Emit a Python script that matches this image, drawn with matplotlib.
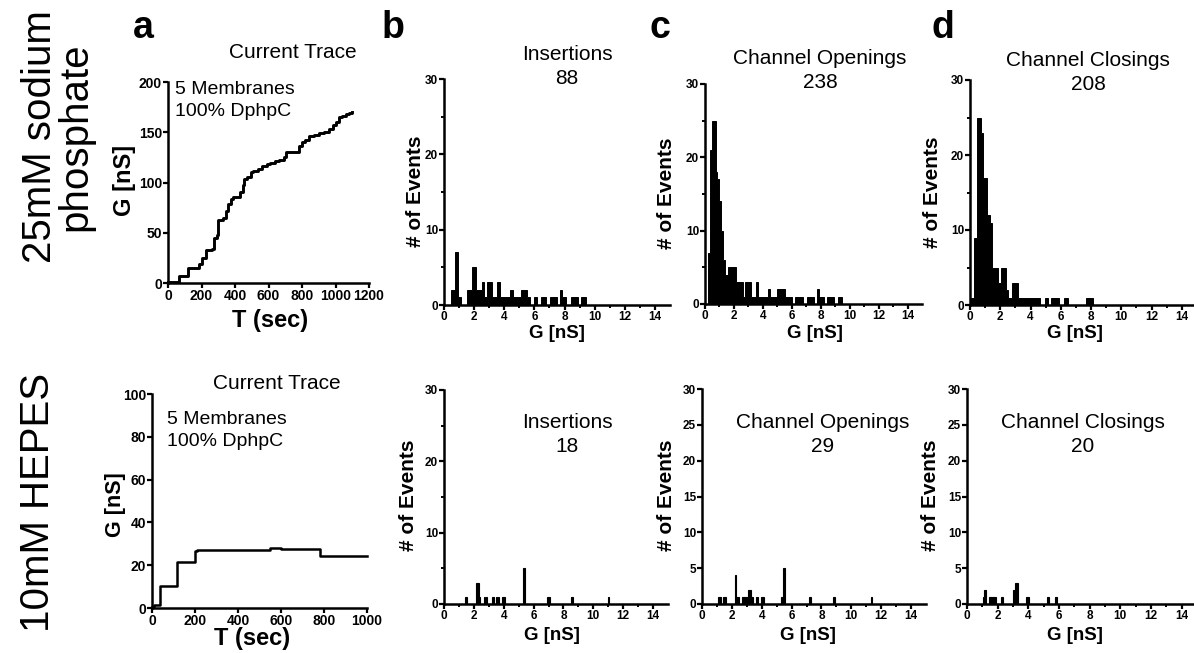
import matplotlib
matplotlib.use("Agg")
import matplotlib.pyplot as plt

plt.rcParams['font.family'] = ['Liberation Sans', 'DejaVu Sans']

# ---- data ----
# 25 mM sodium phosphate current trace (time s, conductance nS, step levels)
trace1_t = [0, 65, 120, 185, 205, 225, 260, 275, 290, 300, 330, 345, 360, 375, 390,
            430, 445, 455, 470, 495, 510, 540, 560, 590, 610, 640, 665, 690, 705,
            780, 800, 820, 840, 870, 900, 930, 960, 985, 1005, 1020, 1040, 1060,
            1080, 1100]
trace1_g = [1, 7, 15, 19, 25, 33, 34, 45, 48, 63, 65, 72, 79, 84, 86,
            91, 98, 103, 105, 110, 111, 113, 116, 118, 119, 121, 122, 125, 130,
            136, 140, 142, 146, 147, 149, 150, 153, 157, 160, 165, 166, 168,
            169, 170]

# 10 mM HEPES current trace
trace2_t = [0, 10, 36, 116, 200, 210, 550, 600, 783, 1000]
trace2_g = [0.5, 1.5, 10.5, 21.3, 26.5, 27.0, 28.0, 27.8, 24.5, 24.5]

# histograms: bin edges (nS) and counts
ins1_edges = [0.45, 0.70, 0.95, 1.15, 1.50, 1.85, 2.10, 2.50, 2.65, 2.85, 3.20, 3.55,
              3.70, 4.40, 4.60, 5.10, 5.50, 5.70, 5.95, 6.15, 6.45, 6.75, 7.05, 7.50,
              7.70, 7.85, 8.10, 8.45, 8.90, 9.10, 9.40]
ins1_counts = [2, 7, 1, 0, 2, 5, 2, 3, 1, 3, 1, 3, 1, 2, 1, 2, 1, 0, 1, 0, 1, 0, 1, 0,
               2, 1, 0, 1, 0, 1]

open1_edges = [0.20, 0.34, 0.46, 0.74, 0.85, 0.99, 1.10, 1.22, 1.38, 1.60, 2.14, 2.60,
               2.75, 3.20, 3.50, 3.68, 4.38, 4.50, 4.95, 5.50, 6.00, 6.25, 6.75, 7.05,
               7.55, 7.75, 7.90, 8.20, 8.45, 8.90, 9.20, 9.45]
open1_counts = [7, 21, 25, 18, 17, 14, 10, 6, 4, 5, 3, 1, 3, 1, 3, 1, 2, 1, 2, 1, 0, 1,
                0, 1, 0, 2, 1, 0, 1, 0, 1]

close1_edges = [0.00, 0.29, 0.44, 0.70, 0.88, 1.10, 1.32, 1.43, 1.83, 2.05, 2.36, 2.53,
                2.75, 3.15, 3.46, 4.63, 4.96, 5.18, 5.35, 5.88, 6.24, 6.50, 7.64, 8.15]
close1_counts = [1, 9, 25, 23, 17, 12, 11, 5, 3, 5, 2, 1, 3, 1, 1, 0, 1, 0, 1, 0, 1, 0, 1]

ins2_edges = [1.41, 1.52, 2.14, 2.34, 2.43, 2.66, 2.77, 2.80, 2.89, 3.23, 3.34, 3.45,
              3.57, 3.60, 3.70, 3.90, 4.07, 5.27, 5.43, 6.93, 7.09, 8.50, 8.64, 10.95,
              11.07]
ins2_counts = [1, 0, 3, 1, 0, 1, 0, 1, 0, 1, 0, 1, 0, 1, 0, 1, 0, 5, 0, 1, 0, 1, 0, 1]

open2_edges = [1.10, 1.25, 1.43, 1.64, 2.19, 2.30, 2.46, 2.70, 2.96, 3.11, 3.25, 3.44,
               3.62, 3.75, 3.93, 4.17, 5.26, 5.37, 5.42, 5.55, 7.17, 7.30, 8.77, 8.88,
               11.29, 11.40]
open2_counts = [1, 0, 1, 0, 4, 1, 0, 1, 1, 2, 1, 0, 1, 0, 1, 0, 1, 0, 5, 0, 1, 0, 1, 0, 1]

close2_edges = [1.02, 1.13, 1.26, 1.41, 1.69, 1.90, 2.20, 2.34, 3.03, 3.12, 3.35, 3.83,
                4.05, 5.24, 5.37, 5.74, 5.89]
close2_counts = [1, 2, 0, 1, 1, 0, 1, 0, 2, 3, 0, 1, 0, 1, 0, 1]

hist_titles = ["Insertions", "Channel Openings", "Channel Closings"]
totals_top = ["88", "238", "208"]
totals_bottom = ["18", "29", "20"]
row_labels = ["25mM sodium\nphosphate", "10mM HEPES"]
panel_letters = ["a", "b", "c", "d"]

# ---- layout (pixel boxes measured on the reference) ----
W, H = 1194, 653
fig = plt.figure(figsize=(W / 100, H / 100), dpi=100)


def add_ax(x0, top, x1, bot):
    return fig.add_axes([x0 / W, 1 - bot / H, (x1 - x0) / W, (bot - top) / H])


def put(x, y, s, **kw):
    kw.setdefault("ha", "center")
    kw.setdefault("va", "center")
    fig.text(x / W, 1 - y / H, s, **kw)


def style(ax, xt, yt, xminor=None, yminor=None, size=8.5):
    for s in ["top", "right"]:
        ax.spines[s].set_visible(False)
    for s in ["left", "bottom"]:
        ax.spines[s].set_linewidth(1.8)
    ax.set_xticks(xt)
    ax.set_xticklabels([str(v) for v in xt], fontweight="bold", fontsize=size)
    ax.set_yticks(yt)
    ax.set_yticklabels([str(v) for v in yt], fontweight="bold", fontsize=size)
    if xminor is not None:
        ax.set_xticks(xminor, minor=True)
    if yminor is not None:
        ax.set_yticks(yminor, minor=True)
    ax.tick_params(which="major", length=3.5, width=1.6, pad=0.8)
    ax.tick_params(which="minor", length=2.2, width=1.4)


# current traces
ax = add_ax(168, 82, 369, 283)
ax.step(trace1_t, trace1_g, where="post", color="black", lw=2.1, clip_on=False)
ax.set_xlim(0, 1200)
ax.set_ylim(0, 200)
style(ax, list(range(0, 1201, 200)), list(range(0, 201, 50)), size=10)

ax = add_ax(152, 394, 367, 608)
ax.step(trace2_t, trace2_g, where="post", color="black", lw=1.8, clip_on=False)
ax.set_xlim(0, 1000)
ax.set_ylim(0, 100)
style(ax, list(range(0, 1001, 200)), list(range(0, 101, 20)), size=10)

# histograms
top_boxes = [(444, 79, 670, 305), (705, 84, 922, 304), (970, 80, 1197, 305)]
bot_boxes = [(444, 390, 668, 604), (702, 389, 926, 604), (967, 389, 1197, 604)]
top_data = [(ins1_edges, ins1_counts), (open1_edges, open1_counts),
            (close1_edges, close1_counts)]
bot_data = [(ins2_edges, ins2_counts), (open2_edges, open2_counts),
            (close2_edges, close2_counts)]
xt = list(range(0, 15, 2))
xm = list(range(1, 15, 2))

for i in range(3):
    ax = add_ax(*top_boxes[i])
    e, c = top_data[i]
    ax.stairs(c, e, fill=True, facecolor="black", edgecolor="black", lw=0.7)
    ax.set_xlim(0, 15)
    ax.set_ylim(0, 30)
    style(ax, xt, [0, 10, 20, 30], xm, [5, 15, 25])

    ax = add_ax(*bot_boxes[i])
    e, c = bot_data[i]
    ax.stairs(c, e, fill=True, facecolor="black", edgecolor="black", lw=0.8)
    ax.set_xlim(0, 15)
    ax.set_ylim(0, 30)
    if i == 0:
        style(ax, xt, [0, 10, 20, 30], xm, [5, 15, 25])
    else:
        style(ax, xt, [0, 5, 10, 15, 20, 25, 30], xm)

# axis labels
put(270, 321, "T (sec)", fontsize=17, fontweight="bold")
put(125, 180, "G [nS]", fontsize=17, fontweight="bold", rotation=90)
put(252, 639, "T (sec)", fontsize=17, fontweight="bold")
put(116, 505, "G [nS]", fontsize=15.5, fontweight="bold", rotation=90)

for x, y in [(415, 191), (667, 193), (933, 192), (408, 495), (666, 495), (930, 495)]:
    put(x, y, "# of Events", fontsize=15, fontweight="bold", rotation=90)
for x, y in [(557, 333), (815, 333), (1075, 333), (552, 635), (808, 635), (1075, 635)]:
    put(x, y, "G [nS]", fontsize=13.5, fontweight="bold")

# titles
put(293, 53, "Current Trace", fontsize=15)
put(277, 383, "Current Trace", fontsize=15)
for i, (x, y) in enumerate([(567, 55), (820, 58), (1088, 61)]):
    put(x, y, hist_titles[i], fontsize=15)
    put(x, y + 24, totals_top[i], fontsize=15)
for i, (x, y) in enumerate([(567, 423), (823, 423), (1083, 423)]):
    put(x, y, hist_titles[i], fontsize=15)
    put(x, y + 23, totals_bottom[i], fontsize=15)

# membrane notes
for x, y in [(175, 90), (167, 420)]:
    put(x, y, "5 Membranes", fontsize=14, ha="left")
    put(x, y + 22, "100% DphpC", fontsize=14, ha="left")

# panel letters
for s, x in zip(panel_letters, [143, 393, 660, 943]):
    put(x, 28, s, fontsize=27, fontweight="bold")

# row labels
put(58, 137, row_labels[0], fontsize=29, rotation=90, linespacing=0.92)
put(38, 502, row_labels[1], fontsize=29, rotation=90)

fig.savefig("out.png", dpi=100)
